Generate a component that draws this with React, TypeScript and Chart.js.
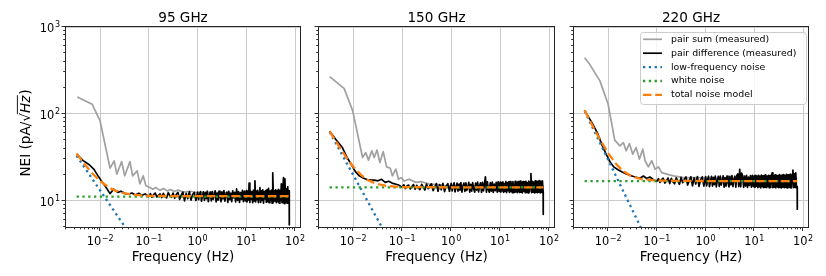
import React, { useEffect, useRef } from 'react';
import { Chart, registerables } from 'chart.js';

Chart.register(...registerables);

const FONT = '"DejaVu Sans", "Noto Sans", sans-serif';

// ---------- axis / tick data ----------
const PANEL_TITLES = ['95 GHz', '150 GHz', '220 GHz'];
const X_MIN = 0.002;
const X_MAX = 126;
const Y_MIN = 5;
const Y_MAX = 1000;
const X_MAJOR = [0.01, 0.1, 1, 10, 100];
const X_MAJOR_EXP = ['\u22122', '\u22121', '0', '1', '2'];
const Y_MAJOR = [10, 100, 1000];
const Y_MAJOR_EXP = ['1', '2', '3'];
const X_LABEL = 'Frequency (Hz)';
const LEGEND_LABELS = [
  'pair sum (measured)',
  'pair difference (measured)',
  'low-frequency noise',
  'white noise',
  'total noise model',
];

// ---------- pair difference (measured) ----------
const DIFF_FREQ = [
  // below 0.1 Hz
  0.0033, 0.0045, 0.006, 0.0075, 0.009, 0.011, 0.013, 0.016, 0.019, 0.023,
  0.027, 0.032, 0.038, 0.045, 0.053, 0.062, 0.072, 0.084,
  // 0.1 - 1 Hz
  0.1, 0.108, 0.116, 0.125, 0.135, 0.146, 0.158, 0.17, 0.184, 0.198,
  0.214, 0.231, 0.25, 0.27, 0.291, 0.314, 0.34, 0.367, 0.396, 0.428,
  0.462, 0.499, 0.539, 0.582, 0.628, 0.679, 0.733, 0.791, 0.855, 0.923,
  // 1 - 10 Hz
  1.0, 1.05, 1.1, 1.15, 1.2, 1.26, 1.32, 1.38, 1.45, 1.51,
  1.58, 1.66, 1.74, 1.82, 1.91, 2.0, 2.09, 2.19, 2.29, 2.4,
  2.51, 2.63, 2.75, 2.88, 3.02, 3.16, 3.31, 3.47, 3.63, 3.8,
  3.98, 4.17, 4.37, 4.57, 4.79, 5.01, 5.25, 5.5, 5.75, 6.03,
  6.31, 6.61, 6.92, 7.24, 7.59, 7.94, 8.32, 8.71, 9.12, 9.55,
  // 10 - 76 Hz
  10, 10.3, 10.7, 11.1, 11.4, 11.8, 12.2, 12.6, 13.1, 13.5,
  14.0, 14.5, 15.0, 15.5, 16.0, 16.6, 17.1, 17.7, 18.3, 19.0,
  19.6, 20.3, 21.0, 21.7, 22.5, 23.2, 24.0, 24.9, 25.7, 26.6,
  27.5, 28.5, 29.4, 30.4, 31.5, 32.6, 33.7, 34.8, 36.0, 37.3,
  38.5, 39.9, 41.2, 42.6, 44.1, 45.6, 47.2, 48.8, 50.5, 52.2,
  54.0, 55.9, 57.8, 59.8, 61.8, 63.9, 66.1, 68.4, 70.7, 73.1,
  75.6, 76,
];
const DIFF_95 = [
  34.5, 29, 26, 23, 19.5, 16.5, 14.5, 12.1, 13.6, 12.5,
  12.9, 12.2, 11.9, 12.3, 11.7, 12.2, 11.6, 12.0,
  11.2, 12.1, 11.0, 11.8, 12.3, 11.1, 11.6, 12.0, 10.9, 12.2,
  11.3, 10.8, 12.4, 11.5, 11.0, 12.3, 10.7, 11.9, 12.5, 10.4,
  11.6, 12.6, 10.0, 12.2, 10.6, 12.7, 10.2, 11.8, 12.5, 10.1,
  12.6, 10.3, 11.9, 12.8, 9.9, 11.4, 12.7, 10.1, 12.4, 10.6,
  12.9, 9.8, 11.7, 12.6, 10.0, 12.8, 10.4, 11.5, 13.0, 9.7,
  12.3, 10.2, 12.9, 11.0, 9.8, 12.7, 10.5, 13.1, 9.9, 11.8,
  12.6, 9.6, 12.9, 10.3, 12.2, 9.8, 13.0, 10.8, 12.5, 9.7,
  13.7, 10.1, 12.8, 9.6, 12.4, 10.4, 13.2, 9.8, 12.9, 10.0,
  13.1, 9.7, 12.8, 10.2, 16.0, 9.6, 13.0, 10.4, 12.7, 9.5,
  13.3, 10.0, 17.0, 9.7, 12.9, 10.3, 13.2, 9.5, 12.6, 14.2,
  9.6, 13.0, 10.1, 13.4, 9.4, 12.8, 10.5, 13.1, 9.6, 13.5,
  9.8, 13.9, 9.5, 12.9, 10.2, 13.3, 9.4, 21.0, 9.7, 13.0,
  10.0, 13.4, 9.5, 13.1, 9.8, 13.6, 9.4, 13.2, 10.1, 15.7,
  9.5, 13.4, 18.5, 9.3, 17.9, 9.6, 13.8, 9.4, 14.5, 9.5,
  13.0, 5.3,
];
const DIFF_150 = [
  63, 50, 41, 31.5, 26.5, 21.8, 19.6, 18.3, 17.6, 17.4,
  17.3, 17.0, 17.7, 16.3, 16.8, 16.0, 15.6, 15.2,
  14.3, 15.3, 13.9, 14.8, 15.2, 13.7, 14.6, 15.4, 13.6, 15.1,
  14.0, 13.5, 15.5, 14.4, 13.3, 15.6, 13.8, 14.9, 15.7, 13.1,
  14.5, 15.8, 12.9, 15.4, 13.4, 15.9, 12.8, 14.7, 15.8, 12.9,
  15.9, 13.0, 14.9, 16.1, 12.7, 14.2, 16.0, 12.9, 15.6, 13.3,
  16.2, 12.6, 14.6, 16.0, 12.8, 16.1, 13.2, 14.3, 16.3, 12.6,
  15.5, 12.9, 16.2, 13.8, 12.6, 16.0, 13.3, 16.4, 12.7, 14.8,
  16.1, 12.5, 16.3, 13.0, 15.7, 18.9, 12.6, 16.5, 13.4, 12.6,
  16.2, 12.9, 16.4, 12.5, 15.6, 13.1, 16.3, 12.6, 16.5, 12.8,
  16.4, 12.6, 16.1, 13.0, 16.5, 12.5, 15.8, 12.9, 16.6, 12.4,
  16.2, 13.1, 16.5, 12.5, 16.7, 12.8, 15.9, 12.4, 16.6, 13.0,
  12.5, 16.8, 12.7, 16.3, 12.4, 16.6, 13.2, 12.5, 16.9, 12.6,
  16.4, 12.3, 16.7, 12.9, 16.5, 12.4, 16.8, 12.6, 16.2, 12.3,
  16.9, 12.7, 16.5, 20.6, 12.4, 16.8, 12.6, 16.4, 12.3, 17.0,
  12.5, 16.7, 12.4, 16.9, 12.6, 17.1, 12.3, 16.8, 12.5, 17.0,
  12.8, 7.0,
];
const DIFF_220 = [
  110, 82, 61, 44, 35, 28, 24.6, 22.8, 21.6, 20.5,
  19.9, 19.2, 18.7, 18.2, 19.3, 18.1, 18.8, 17.6,
  16.8, 18.0, 16.3, 17.5, 18.2, 16.0, 17.2, 18.3, 15.8, 18.1,
  16.5, 15.7, 18.4, 17.0, 15.5, 18.6, 16.2, 17.7, 18.8, 15.2,
  17.0, 18.9, 14.9, 18.4, 15.6, 19.0, 14.7, 17.4, 18.9, 14.8,
  19.0, 14.9, 17.6, 19.2, 14.6, 16.8, 19.1, 14.8, 18.6, 15.4,
  19.3, 14.5, 17.3, 19.1, 14.7, 19.2, 15.2, 17.0, 19.4, 14.4,
  18.5, 14.8, 19.3, 16.2, 14.5, 19.1, 15.3, 19.5, 14.6, 17.5,
  19.2, 14.4, 19.6, 20.4, 14.6, 23.1, 14.5, 20.8, 19.4, 14.3,
  19.3, 14.8, 19.6, 14.3, 18.7, 15.0, 19.5, 14.4, 19.7, 14.6,
  19.4, 14.3, 19.6, 14.7, 19.2, 14.2, 19.7, 14.5, 19.3, 14.1,
  19.8, 14.6, 19.4, 14.2, 19.6, 14.4, 19.9, 14.2, 19.3, 14.6,
  19.7, 14.1, 19.5, 14.3, 19.8, 21.0, 14.2, 19.6, 14.4, 19.9,
  14.1, 19.7, 14.5, 19.5, 14.2, 20.0, 14.3, 19.6, 14.1, 19.8,
  14.4, 20.1, 14.2, 19.7, 14.3, 20.2, 14.1, 19.9, 14.5, 20.0,
  14.2, 20.3, 14.1, 19.8, 22.5, 14.2, 20.4, 14.3, 21.0, 14.1,
  14.6, 8.0,
];

// ---------- pair sum (measured) ----------
const SUM_FREQ_95 = [
  0.0034, 0.0069, 0.01, 0.016, 0.0195, 0.022, 0.0277, 0.032, 0.041, 0.0465,
  0.0577, 0.0655, 0.0766, 0.087, 0.105, 0.12, 0.14, 0.17, 0.2, 0.24,
  0.28, 0.33, 0.4, 0.5, 0.7, 1, 2, 5, 10, 20, 50, 76,
];
const SUM_95 = [
  157, 129, 83, 23.8, 28.8, 20.3, 28.3, 19.4, 28.3, 19.4,
  22.1, 15.7, 19.4, 14.9, 14.2, 13.6, 14.2, 13.2, 13.9, 13.0,
  13.5, 12.8, 13.3, 12.6, 12.9, 12.4, 12.5, 12.3, 12.4, 12.3, 12.4, 12.2,
];
const SUM_FREQ_150 = [
  0.0033, 0.0065, 0.0097, 0.0155, 0.018, 0.0205, 0.024, 0.0268, 0.0305, 0.035,
  0.041, 0.048, 0.057, 0.063, 0.074, 0.084, 0.095, 0.11, 0.139, 0.19,
  0.25, 0.356, 0.5, 0.78, 1.5, 5, 20, 76,
];
const SUM_150 = [
  268, 197, 110, 31.5, 35.9, 29.4, 37.6, 31.5, 38.4, 27.6,
  36.8, 24.6, 23.7, 19.4, 23.2, 17.7, 18.5, 16.9, 17.7, 16.3,
  16.6, 15.6, 15.5, 14.9, 15.0, 15.0, 15.0, 14.8,
];
const SUM_FREQ_220 = [
  0.0033, 0.0042, 0.0068, 0.01, 0.0137, 0.0174, 0.0206, 0.0234, 0.0274, 0.0321,
  0.0375, 0.0439, 0.0515, 0.0574, 0.0671, 0.0787, 0.092, 0.108, 0.126, 0.16,
  0.22, 0.35, 0.66, 1.5, 5, 20, 76,
];
const SUM_220 = [
  443, 372, 240, 130, 50, 42.9, 46.8, 37.6, 45.6, 34.4,
  41, 30.2, 39.3, 28.9, 24.6, 28.9, 23.1, 24.6, 21.1, 20.3,
  19.4, 18.5, 18.5, 18.2, 18.3, 18.3, 18.0,
];

// ---------- low-frequency noise ----------
const LF_FREQ_95 = [0.0033, 0.04];
const LF_95 = [33, 4.2];
const LF_FREQ_150 = [0.0033, 0.05];
const LF_150 = [62, 3.8];
const LF_FREQ_220 = [0.0033, 0.06];
const LF_220 = [108, 3.7];

// ---------- white noise ----------
const WHITE_FREQ = [0.0033, 76];
const WHITE_95 = [11.2, 11.2];
const WHITE_150 = [14.3, 14.3];
const WHITE_220 = [16.9, 16.9];

// ---------- total noise model ----------
const MODEL_FREQ = [0.0033, 0.005, 0.007, 0.01, 0.015, 0.02, 0.03, 0.05, 0.1, 1, 76];
const MODEL_95 = [35, 25.6, 20.6, 16.9, 14.3, 13.2, 12.3, 11.7, 11.4, 11.3, 11.3];
const MODEL_150 = [63, 43.4, 32.4, 24.7, 19.5, 17.3, 15.7, 14.8, 14.4, 14.3, 14.3];
const MODEL_220 = [110, 69.9, 49.6, 35.5, 26.1, 22.2, 19.2, 17.7, 17.1, 16.9, 16.9];

// ---------- layout (pixels) ----------
const W = 826;
const H = 276;
const PANEL_LEFT = [66, 319, 574];
const PANEL_RIGHT = [300, 554, 808];
const PLOT_TOP = 27;
const X_AXIS_H = 49;

const STYLES = [
  { color: '#a0a0a0', width: 1.7, dash: [] as number[] },
  { color: '#000000', width: 1.7, dash: [] as number[] },
  { color: '#1f77b4', width: 2.3, dash: [2.3, 3.5] },
  { color: '#2ca02c', width: 2.3, dash: [2.3, 3.5] },
  { color: '#ff7f0e', width: 2.3, dash: [8.5, 3.7] },
];

const zip = (xs: number[], ys: number[]) => xs.map((x, i) => ({ x, y: ys[i] }));

const PANEL_SERIES = [
  [zip(SUM_FREQ_95, SUM_95), zip(DIFF_FREQ, DIFF_95), zip(LF_FREQ_95, LF_95), zip(WHITE_FREQ, WHITE_95), zip(MODEL_FREQ, MODEL_95)],
  [zip(SUM_FREQ_150, SUM_150), zip(DIFF_FREQ, DIFF_150), zip(LF_FREQ_150, LF_150), zip(WHITE_FREQ, WHITE_150), zip(MODEL_FREQ, MODEL_150)],
  [zip(SUM_FREQ_220, SUM_220), zip(DIFF_FREQ, DIFF_220), zip(LF_FREQ_220, LF_220), zip(WHITE_FREQ, WHITE_220), zip(MODEL_FREQ, MODEL_220)],
];

function drawPow(ctx: CanvasRenderingContext2D, x: number, baseline: number, align: 'center' | 'right', exp: string) {
  ctx.textAlign = 'left';
  ctx.textBaseline = 'alphabetic';
  ctx.font = `11.4px ${FONT}`;
  const wb = ctx.measureText('10').width;
  ctx.font = `8px ${FONT}`;
  const we = ctx.measureText(exp).width;
  const total = wb + we + 0.6;
  const x0 = align === 'center' ? x - total / 2 : x - total;
  ctx.font = `11.4px ${FONT}`;
  ctx.fillText('10', x0, baseline);
  ctx.font = `8px ${FONT}`;
  ctx.fillText(exp, x0 + wb + 0.6, baseline - 4.6);
}

function drawYLabel(ctx: CanvasRenderingContext2D, xBase: number, yCenter: number) {
  const fn = `13.6px ${FONT}`;
  const fi = `italic 13.6px ${FONT}`;
  ctx.save();
  ctx.font = fn;
  const w1 = ctx.measureText('NEI (pA/').width;
  const ws = ctx.measureText('\u221A').width;
  const wp = ctx.measureText(')').width;
  ctx.font = fi;
  const wh = ctx.measureText('Hz').width;
  const total = w1 + ws + wh + 1 + wp;
  ctx.translate(xBase, yCenter + total / 2);
  ctx.rotate(-Math.PI / 2);
  ctx.fillStyle = '#000';
  ctx.strokeStyle = '#000';
  ctx.textAlign = 'left';
  ctx.textBaseline = 'alphabetic';
  let x = 0;
  ctx.font = fn;
  ctx.fillText('NEI (pA/', x, 0);
  x += w1;
  ctx.fillText('\u221A', x, 0);
  x += ws;
  ctx.font = fi;
  ctx.fillText('Hz', x, 0);
  ctx.lineWidth = 0.9;
  ctx.setLineDash([]);
  ctx.beginPath();
  ctx.moveTo(x - 1.2, -12.6);
  ctx.lineTo(x + wh + 0.5, -12.6);
  ctx.stroke();
  x += wh + 1;
  ctx.font = fn;
  ctx.fillText(')', x, 0);
  ctx.restore();
}

function drawLegend(ctx: CanvasRenderingContext2D) {
  const bx = 640.5, by = 32.5, bw = 166, bh = 72, r = 3;
  ctx.save();
  ctx.setLineDash([]);
  ctx.beginPath();
  ctx.moveTo(bx + r, by);
  ctx.lineTo(bx + bw - r, by);
  ctx.quadraticCurveTo(bx + bw, by, bx + bw, by + r);
  ctx.lineTo(bx + bw, by + bh - r);
  ctx.quadraticCurveTo(bx + bw, by + bh, bx + bw - r, by + bh);
  ctx.lineTo(bx + r, by + bh);
  ctx.quadraticCurveTo(bx, by + bh, bx, by + bh - r);
  ctx.lineTo(bx, by + r);
  ctx.quadraticCurveTo(bx, by, bx + r, by);
  ctx.closePath();
  ctx.fillStyle = 'rgba(255,255,255,0.8)';
  ctx.fill();
  ctx.strokeStyle = '#cccccc';
  ctx.lineWidth = 1;
  ctx.stroke();
  LEGEND_LABELS.forEach((label, i) => {
    const y = 39.3 + i * 13.9;
    const st = STYLES[i];
    ctx.strokeStyle = st.color;
    ctx.lineWidth = st.width;
    ctx.setLineDash(st.dash);
    ctx.beginPath();
    ctx.moveTo(643, y);
    ctx.lineTo(662, y);
    ctx.stroke();
    ctx.setLineDash([]);
    ctx.fillStyle = '#000';
    ctx.font = `9.4px ${FONT}`;
    ctx.textAlign = 'left';
    ctx.textBaseline = 'middle';
    ctx.fillText(label, 671, y);
  });
  ctx.restore();
}

function makeDecor(idx: number) {
  return {
    id: 'decor' + idx,
    afterDraw(chart: any) {
      const ctx: CanvasRenderingContext2D = chart.ctx;
      const { left, right, top, bottom } = chart.chartArea;
      const xs = chart.scales.x;
      const ys = chart.scales.y;
      ctx.save();
      ctx.setLineDash([]);
      // frame
      ctx.strokeStyle = '#262626';
      ctx.lineWidth = 1;
      ctx.strokeRect(Math.round(left) - 0.5, Math.round(top) - 0.5, Math.round(right - left) + 1, Math.round(bottom - top) + 1);
      // ticks
      ctx.strokeStyle = '#333333';
      ctx.lineWidth = 1;
      const line = (x1: number, y1: number, x2: number, y2: number) => {
        ctx.beginPath();
        ctx.moveTo(x1, y1);
        ctx.lineTo(x2, y2);
        ctx.stroke();
      };
      for (let n = -3; n <= 2; n++) {
        for (let k = 1; k <= 9; k++) {
          const v = k * Math.pow(10, n);
          if (v < X_MIN || v > X_MAX) continue;
          const px = Math.round(xs.getPixelForValue(v)) - 0.5;
          line(px, bottom + 0.5, px, bottom + (k === 1 ? 4 : 2.3));
        }
      }
      for (let n = 0; n <= 3; n++) {
        for (let k = 1; k <= 9; k++) {
          const v = k * Math.pow(10, n);
          if (v < Y_MIN || v > Y_MAX) continue;
          const py = Math.round(ys.getPixelForValue(v)) - 0.5;
          line(left - 0.5, py, left - (k === 1 ? 4.5 : 2.8), py);
        }
      }
      // tick labels
      ctx.fillStyle = '#000';
      X_MAJOR.forEach((v, i) => {
        drawPow(ctx, xs.getPixelForValue(v), 245.3, 'center', X_MAJOR_EXP[i]);
      });
      if (idx === 0) {
        Y_MAJOR.forEach((v, i) => {
          drawPow(ctx, left - 6, ys.getPixelForValue(v) + 5, 'right', Y_MAJOR_EXP[i]);
        });
        drawYLabel(ctx, 30, 133);
      }
      // axis label and title
      ctx.fillStyle = '#000';
      ctx.font = `13.6px ${FONT}`;
      ctx.textAlign = 'center';
      ctx.textBaseline = 'alphabetic';
      ctx.fillText(X_LABEL, (left + right) / 2, 260.5);
      ctx.fillText(PANEL_TITLES[idx], (left + right) / 2, 21.5);
      ctx.restore();
      if (idx === 2) drawLegend(ctx);
    },
  };
}

function makeConfig(idx: number): any {
  const series = PANEL_SERIES[idx];
  const datasets = series.map((data, i) => ({
    label: LEGEND_LABELS[i],
    data,
    borderColor: STYLES[i].color,
    backgroundColor: STYLES[i].color,
    borderWidth: STYLES[i].width,
    borderDash: STYLES[i].dash,
    borderCapStyle: 'butt',
    borderJoinStyle: 'round',
    pointRadius: 0,
    pointHoverRadius: 0,
    fill: false,
    tension: 0,
    clip: 0,
    order: 5 - i,
  }));
  const gridColor = '#cbcbcb';
  return {
    type: 'line',
    data: { datasets },
    options: {
      responsive: false,
      animation: false,
      devicePixelRatio: 1,
      events: [],
      layout: {
        padding: { left: PANEL_LEFT[idx] - 20, right: W - PANEL_RIGHT[idx], top: PLOT_TOP, bottom: 0 },
      },
      plugins: {
        legend: { display: false },
        tooltip: { enabled: false },
        title: { display: false },
      },
      scales: {
        x: {
          type: 'logarithmic',
          min: X_MIN,
          max: X_MAX,
          afterBuildTicks: (s: any) => {
            s.ticks = X_MAJOR.map((value) => ({ value }));
          },
          afterFit: (s: any) => {
            s.height = X_AXIS_H;
          },
          ticks: { display: false },
          grid: { color: gridColor, lineWidth: 1, drawTicks: false },
          border: { display: false },
        },
        y: {
          type: 'logarithmic',
          min: Y_MIN,
          max: Y_MAX,
          afterBuildTicks: (s: any) => {
            s.ticks = Y_MAJOR.map((value) => ({ value }));
          },
          afterFit: (s: any) => {
            s.width = 20;
          },
          ticks: { display: false },
          grid: { color: gridColor, lineWidth: 1, drawTicks: false },
          border: { display: false },
        },
      },
    },
    plugins: [makeDecor(idx)],
  };
}

export default function App() {
  const r0 = useRef<HTMLCanvasElement>(null);
  const r1 = useRef<HTMLCanvasElement>(null);
  const r2 = useRef<HTMLCanvasElement>(null);
  useEffect(() => {
    const refs = [r0, r1, r2];
    const charts = refs.map((r, i) => new Chart(r.current as HTMLCanvasElement, makeConfig(i)));
    return () => charts.forEach((c) => c.destroy());
  }, []);
  const cs: React.CSSProperties = { position: 'absolute', left: 0, top: 0, width: W, height: H };
  return (
    <div style={{ position: 'fixed', left: 0, top: 0, width: W, height: H, background: '#ffffff' }}>
      <canvas ref={r0} width={W} height={H} style={cs} />
      <canvas ref={r1} width={W} height={H} style={cs} />
      <canvas ref={r2} width={W} height={H} style={cs} />
    </div>
  );
}
